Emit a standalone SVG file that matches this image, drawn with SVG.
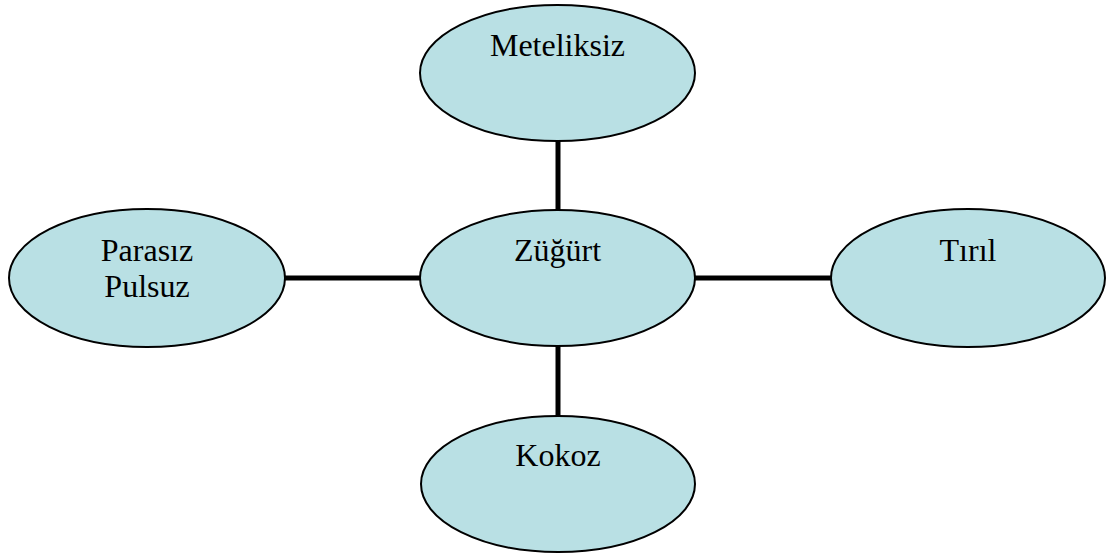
<svg xmlns="http://www.w3.org/2000/svg" width="1111" height="556" viewBox="0 0 1111 556">
<style>
.node ellipse{fill:#B9E0E4;stroke:#000;stroke-width:2}
.node text{font-family:"Liberation Serif","Times New Roman",serif;font-size:32px;fill:#000;text-anchor:middle}
.conn line{stroke:#000;stroke-width:5}
</style>
<rect width="1111" height="556" fill="#fff"/>
<g id="connectors" class="conn">
<line x1="558" y1="141" x2="558" y2="211"/>
<line x1="558" y1="345" x2="558" y2="417"/>
<line x1="284" y1="278" x2="421" y2="278"/>
<line x1="694" y1="278" x2="832" y2="278"/>
</g>
<g id="meteliksiz" class="node">
<ellipse cx="557.5" cy="73" rx="137.5" ry="68"/>
<text x="557.5" y="56">Meteliksiz</text>
</g>
<g id="zugurt" class="node">
<ellipse cx="557.5" cy="278" rx="137.5" ry="68"/>
<text x="557.5" y="261">Züğürt</text>
</g>
<g id="parasiz" class="node">
<ellipse cx="147" cy="278" rx="138" ry="69"/>
<text x="147" y="261">Parasız</text>
<text x="147" y="297">Pulsuz</text>
</g>
<g id="tiril" class="node">
<ellipse cx="968" cy="278" rx="137" ry="69"/>
<text x="968" y="261">Tırıl</text>
</g>
<g id="kokoz" class="node">
<ellipse cx="558" cy="484" rx="137" ry="68"/>
<text x="558" y="466">Kokoz</text>
</g>
</svg>
